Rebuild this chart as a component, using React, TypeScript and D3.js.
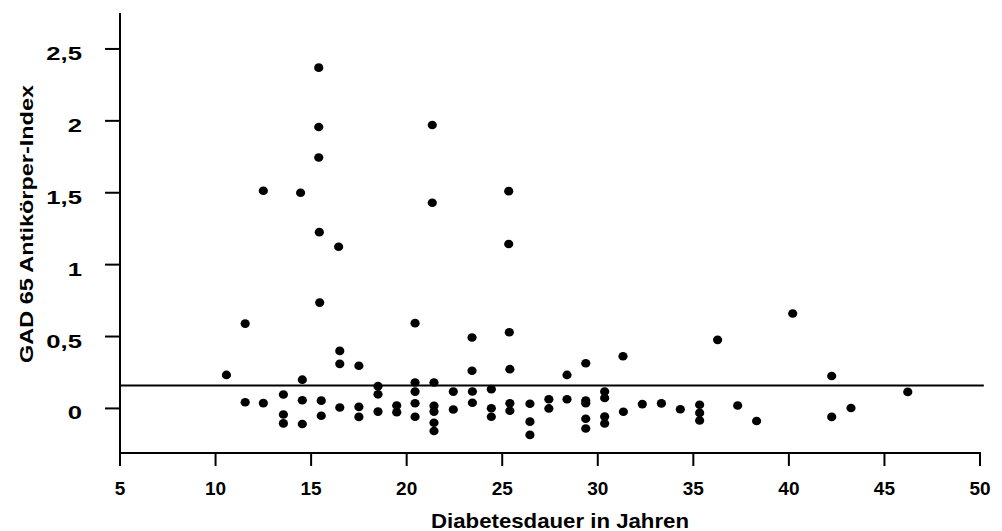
import React from 'react';
import * as d3 from 'd3';

// Diabetesdauer (Jahre) and GAD 65 index, one entry per patient
const durations = [
  10.57,
  11.55, 11.55,
  12.5, 12.5,
  13.55, 13.55, 13.55,
  14.45, 14.54, 14.54, 14.54,
  15.4, 15.4, 15.4, 15.43, 15.45, 15.53, 15.53,
  16.44, 16.5, 16.5, 16.5,
  17.5, 17.5, 17.5,
  18.5, 18.5, 18.5,
  19.48, 19.48,
  20.44, 20.44, 20.44, 20.44, 20.44,
  21.34, 21.34, 21.43, 21.43, 21.43, 21.43, 21.43,
  22.44, 22.44,
  23.42, 23.42, 23.44, 23.44,
  24.43, 24.43, 24.43,
  25.34, 25.34, 25.37, 25.4, 25.4, 25.4,
  26.45, 26.45, 26.45,
  27.44, 27.44,
  28.39, 28.39,
  29.37, 29.37, 29.37, 29.37, 29.37,
  30.36, 30.36, 30.36, 30.36,
  31.32, 31.34,
  32.33,
  33.33,
  34.32,
  35.33, 35.33, 35.33,
  36.27,
  37.32,
  38.31,
  40.2,
  42.24, 42.24,
  43.25,
  46.22,
];

const gadIndex = [
  0.233,
  0.59, 0.043,
  1.514, 0.037,
  0.097, -0.042, -0.104,
  1.5, 0.2, 0.057, -0.108,
  2.37, 1.957, 1.745, 1.226, 0.736, 0.054, -0.051,
  1.124, 0.4, 0.31, 0.006,
  0.297, 0.011, -0.059,
  0.155, 0.098, -0.022,
  0.02, -0.027,
  0.593, 0.18, 0.117, 0.036, -0.058,
  1.971, 1.43, 0.18, 0.018, -0.022, -0.1, -0.157,
  0.117, -0.007,
  0.493, 0.262, 0.118, 0.039,
  0.134, 0.001, -0.058,
  1.511, 1.143, 0.53, 0.273, 0.036, -0.016,
  0.032, -0.092, -0.184,
  0.064, 0.0,
  0.233, 0.064,
  0.314, 0.054, 0.036, -0.072, -0.14,
  0.118, 0.073, -0.057, -0.105,
  0.363, -0.023,
  0.03,
  0.035,
  -0.006,
  0.026, -0.031, -0.084,
  0.477,
  0.02,
  -0.087,
  0.66,
  0.226, -0.059,
  0.003,
  0.115,
];

const xTicks = [5, 10, 15, 20, 25, 30, 35, 40, 45, 50];
const yTicks = [0, 0.5, 1, 1.5, 2, 2.5];
const yTickLabels = ['0', '0,5', '1', '1,5', '2', '2,5'];
const cutoff = 0.16;

const font = '"Liberation Sans", Arial, sans-serif';

const App = () => {
  const x = d3.scaleLinear().domain([5, 50]).range([120, 980]);
  const y = d3.scaleLinear().domain([-0.31, 2.75]).range([453, 13]);
  const points = durations.map((d, i) => [d, gadIndex[i]]);
  const [yBottom, yTop] = y.range();

  return (
    <svg width={1002} height={531} style={{ position: 'absolute', left: 0, top: 0, background: '#fff' }}>
      {/* axes */}
      <line x1={x(5)} x2={x(5)} y1={yTop} y2={yBottom} stroke="#000" strokeWidth={2} />
      <line x1={x(5) - 1} x2={x(50) + 1} y1={yBottom} y2={yBottom} stroke="#000" strokeWidth={2} />
      {yTicks.map((t, i) => (
        <g key={t}>
          <line x1={x(5) - 15} x2={x(5)} y1={y(t)} y2={y(t)} stroke="#000" strokeWidth={2} />
          {/* the original labels are drawn a bit stretched sideways */}
          <text
            transform={`translate(${x(5) - 38}, ${y(t) + 11}) scale(1.35, 1)`}
            textAnchor="end"
            fontFamily={font}
            fontWeight="bold"
            fontSize={19}
          >
            {yTickLabels[i]}
          </text>
        </g>
      ))}
      {xTicks.map((t) => (
        <g key={t}>
          <line x1={x(t)} x2={x(t)} y1={yBottom} y2={yBottom + 13} stroke="#000" strokeWidth={2} />
          <text x={x(t)} y={yBottom + 42} textAnchor="middle" fontFamily={font} fontWeight="bold" fontSize={19}>
            {t}
          </text>
        </g>
      ))}
      <text
        x={560}
        y={528}
        textAnchor="middle"
        fontFamily={font}
        fontWeight="bold"
        fontSize={20.5}
        textLength={258}
        lengthAdjust="spacingAndGlyphs"
      >
        Diabetesdauer in Jahren
      </text>
      <text
        transform="translate(33, 224) rotate(-90)"
        textAnchor="middle"
        fontFamily={font}
        fontWeight="bold"
        fontSize={18.5}
        textLength={278}
        lengthAdjust="spacingAndGlyphs"
      >
        GAD 65 Antikörper-Index
      </text>
      {/* cut-off line */}
      <line x1={x(5)} x2={x(50.2)} y1={y(cutoff)} y2={y(cutoff)} stroke="#000" strokeWidth={2} />
      {points.map(([d, v], i) => (
        <ellipse key={i} cx={x(d)} cy={y(v)} rx={4.6} ry={4.3} fill="#000" />
      ))}
    </svg>
  );
};

export default App;
